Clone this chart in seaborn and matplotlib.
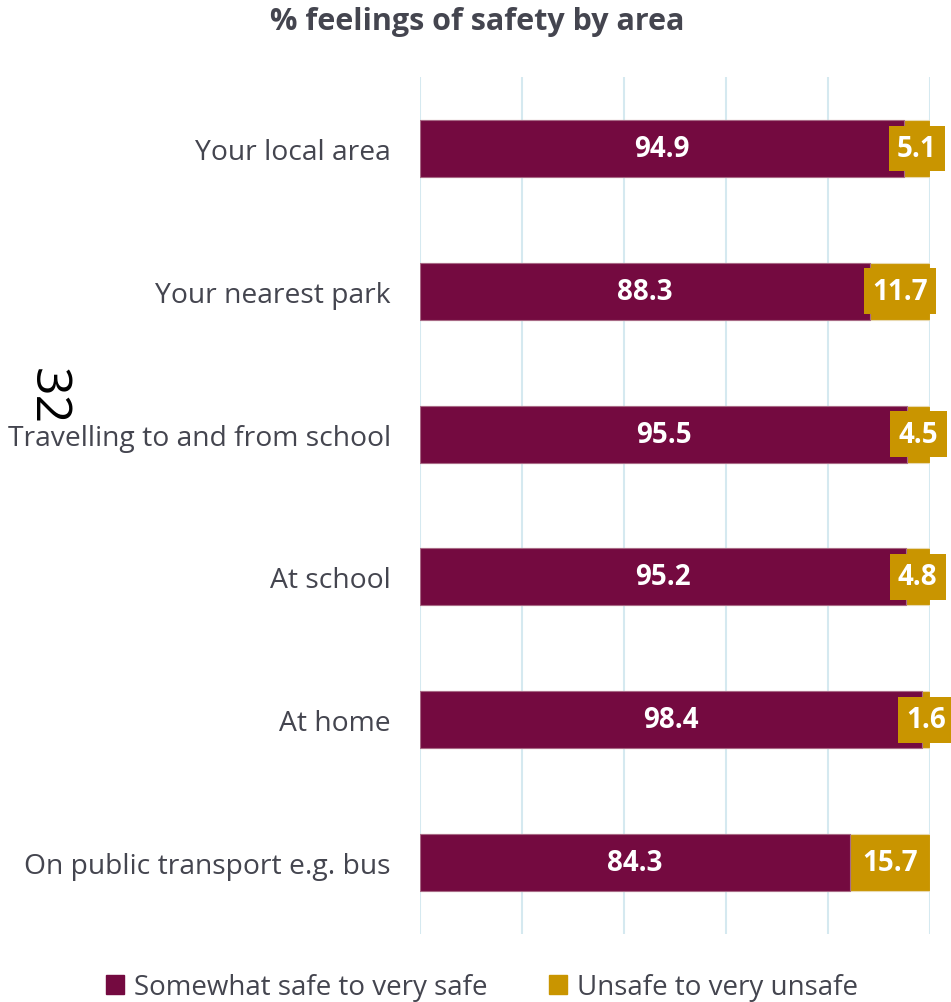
import matplotlib
matplotlib.use("Agg")
import matplotlib.pyplot as plt
import seaborn as sns
import pandas as pd

areas = ["Your local area", "Your nearest park", "Travelling to and from school",
         "At school", "At home", "On public transport e.g. bus"]
safe = [94.9, 88.3, 95.5, 95.2, 98.4, 84.3]
unsafe = [5.1, 11.7, 4.5, 4.8, 1.6, 15.7]
series_names = ["Somewhat safe to very safe", "Unsafe to very unsafe"]
x_ticks = [0, 20, 40, 60, 80, 100]

maroon = "#740A40"
gold = "#C99500"
text_grey = "#44454F"

sns.set_theme(style="white")
plt.rcParams["font.family"] = ["Open Sans", "DejaVu Sans"]

df = pd.DataFrame({"area": areas, "safe": safe, "unsafe": unsafe})
df["total"] = df["safe"] + df["unsafe"]

fig = plt.figure(figsize=(9.51, 10.03), dpi=100)
ax = fig.add_axes([420 / 951, 1 - 935 / 1003, 510 / 951, 857 / 1003])

sns.barplot(data=df, y="area", x="total", color=gold, orient="h", width=0.4,
            ax=ax, saturation=1, edgecolor="#E8D9B0", linewidth=0.8, zorder=3)
sns.barplot(data=df, y="area", x="safe", color=maroon, orient="h", width=0.4,
            ax=ax, saturation=1, edgecolor="#A86A86", linewidth=0.8, zorder=4)

ax.set_xlim(0, 100)
ax.set_ylim(5.5, -0.5)
ax.set_xticks(x_ticks)
ax.set_xticklabels([])
ax.grid(axis="x", color="#D5E9F0", linewidth=1.5, zorder=0)
ax.grid(axis="y", visible=False)
for s in ax.spines.values():
    s.set_visible(False)
ax.set_xlabel("")
ax.set_ylabel("")
ax.tick_params(axis="y", length=0, pad=21, labelsize=20.3, labelcolor=text_grey)
ax.tick_params(axis="x", length=0)

for i, (s_val, u_val) in enumerate(zip(safe, unsafe)):
    ax.text(s_val / 2, i, f"{s_val:.1f}", ha="center", va="center", color="white",
            fontsize=20, fontweight="bold", zorder=6)
    ax.text(s_val + u_val / 2, i, f"{u_val:.1f}", ha="center", va="center",
            color="white", fontsize=20, fontweight="bold", zorder=6,
            bbox=dict(boxstyle="square,pad=0.3", facecolor=gold, edgecolor="none"))

fig.text(477 / 951, 1 - 22 / 1003, "% feelings of safety by area", ha="center",
         va="center", fontsize=22, fontweight="bold", color=text_grey)

fig.text(46 / 951, 1 - 397 / 1003, "32", rotation=-90, ha="center", va="center",
         fontsize=36, color="black")

handles = [plt.Rectangle((0, 0), 1, 1, color=maroon),
           plt.Rectangle((0, 0), 1, 1, color=gold)]
fig.legend(handles, series_names, loc="center", bbox_to_anchor=(482 / 951, 1 - 988 / 1003),
           ncol=2, frameon=False, fontsize=20, labelcolor=text_grey,
           handlelength=0.65, handleheight=0.65, handletextpad=0.35, columnspacing=2.2)

fig.savefig("out.png", dpi=100)
